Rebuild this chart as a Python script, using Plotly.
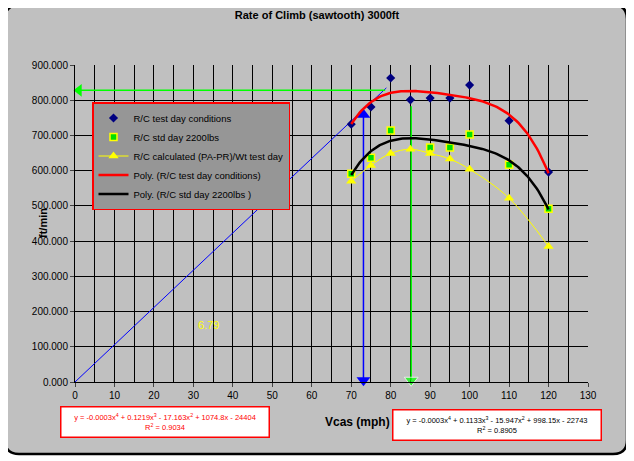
import numpy as np
import plotly.graph_objects as go

vcas = [70, 75, 80, 85, 90, 95, 100, 110, 120]
rc_test = [732, 781, 863, 801, 806, 806, 843, 742, 596]
vcas_std = [70, 75, 80, 90, 95, 100, 110, 120]
rc_std = [591, 637, 714, 666, 666, 703, 617, 492]
rc_calc = [570, 615, 649, 661, 649, 633, 604, 522, 385]

# hand-drawn helper lines on the chart
diag_x, diag_y = [0, 78.9], [0, 835]
horiz_x, horiz_y = [1, 78.6], [828, 828]
blue_x, blue_y = [73.1, 73.1], [5, 759]
green_x, green_y = [85.2, 85.2], [5, 783]

eq_left = "y = -0.0003x<sup>4</sup> + 0.1219x<sup>3</sup> - 17.163x<sup>2</sup> + 1074.8x - 24404<br>R<sup>2</sup> = 0.9034"
eq_right = "y = -0.0003x<sup>4</sup> + 0.1133x<sup>3</sup> - 15.947x<sup>2</sup> + 998.15x - 22743<br>R<sup>2</sup> = 0.8905"

def trend(x, y):
    x = np.array(x, float)
    c = np.polyfit(x - 95, y, 4)
    xs = np.linspace(70, 120, 120)
    return xs, np.polyval(c, xs - 95)

font = "Liberation Sans, Arial, sans-serif"
fig = go.Figure()

fig.add_scatter(x=diag_x, y=diag_y, mode="lines", line=dict(color="#0000ff", width=1), showlegend=False)
fig.add_scatter(x=horiz_x, y=horiz_y, mode="lines", line=dict(color="#00ff00", width=1.5), showlegend=False)
fig.add_scatter(x=horiz_x[:1], y=horiz_y[:1], mode="markers", cliponaxis=False,
                marker=dict(symbol="triangle-left", size=11, color="#00ff00"), showlegend=False)
fig.add_scatter(x=blue_x, y=blue_y, mode="lines+markers", cliponaxis=False,
                line=dict(color="#0000ff", width=1.5),
                marker=dict(symbol=["triangle-down", "triangle-up"], size=12, color="#0000ff"), showlegend=False)
fig.add_scatter(x=green_x, y=green_y, mode="lines+markers", cliponaxis=False,
                line=dict(color="#00ff00", width=1.5),
                marker=dict(symbol=["triangle-down", "triangle-up"], size=[12, 0], color="#00ff00"), showlegend=False)

fig.add_scatter(x=vcas, y=rc_test, mode="markers", name="R/C test day conditions",
                marker=dict(symbol="diamond", size=7, color="#000080"))
fig.add_scatter(x=vcas_std, y=rc_std, mode="markers", name="R/C std day 2200lbs",
                marker=dict(symbol="square", size=7, color="#00e000", line=dict(color="#ffff00", width=1.5)))
fig.add_scatter(x=vcas, y=rc_calc, mode="lines+markers", name="R/C calculated (PA-PR)/Wt test day",
                line=dict(color="#ffff00", width=1, shape="spline"),
                marker=dict(symbol="triangle-up", size=9, color="#ffff00"))
xs, ys = trend(vcas, rc_test)
fig.add_scatter(x=xs, y=ys, mode="lines", name="Poly. (R/C test day conditions)",
                line=dict(color="#ff0000", width=2.5))
xs, ys = trend(vcas_std, rc_std)
fig.add_scatter(x=xs, y=ys, mode="lines", name="Poly. (R/C std day 2200lbs )",
                line=dict(color="#000000", width=2.5))

# page offset: the browser body adds 8px around the figure
OFF = 8
L, T, R, B = 75, 65, 588, 382   # plot area on the page
W, H = R - L, B - T
def px(x): return (x - L) / W
def py(y): return (B - y) / H
x0, x1, y0, y1, r = 5, 627, 5, 454, 14
path = (f"M {px(x0+r)} {py(y0)} L {px(x1-r)} {py(y0)} Q {px(x1)} {py(y0)} {px(x1)} {py(y0+r)} "
        f"L {px(x1)} {py(y1-r)} Q {px(x1)} {py(y1)} {px(x1-r)} {py(y1)} "
        f"L {px(x0+r)} {py(y1)} Q {px(x0)} {py(y1)} {px(x0)} {py(y1-r)} "
        f"L {px(x0)} {py(y0+r)} Q {px(x0)} {py(y0)} {px(x0+r)} {py(y0)} Z")
fig.add_shape(type="path", path=path, xref="paper", yref="paper", layer="below",
              fillcolor="#c0c0c0", line=dict(color="black", width=2.5))

def note(x, y, text, **kw):
    fig.add_annotation(x=px(x), y=py(y), xref="paper", yref="paper", text=text, showarrow=False,
                       xanchor="center", yanchor="middle", **kw)

fig.add_annotation(x=33.9, y=161, text="6.79", showarrow=False, font=dict(color="#ffff00", size=11))
note(165, 422, eq_left, font=dict(color="#ff0000", size=7.5), bgcolor="white", bordercolor="#ff0000",
     borderwidth=1.5, width=205, height=27)
note(497, 425, eq_right, font=dict(color="black", size=7.5), bgcolor="white", bordercolor="#ff0000",
     borderwidth=1.5, width=205, height=27)
note(357, 422, "<b>Vcas (mph)</b>", font=dict(size=12, color="black"))
note(43, 223, "<b>ft/min</b>", textangle=-90, font=dict(size=11, color="black"))

fig.update_layout(
    width=634 - OFF, height=461 - OFF,
    margin=dict(l=L - OFF, r=634 - R, t=T - OFF, b=461 - B, autoexpand=False),
    paper_bgcolor="white", plot_bgcolor="#969696",
    font=dict(family=font, size=10, color="black"),
    title=dict(text="<b>Rate of Climb (sawtooth) 3000ft</b>", x=px(317), xref="paper",
               xanchor="center", y=1 - (15 - OFF) / (461 - OFF), yanchor="middle",
               font=dict(size=11)),
    legend=dict(x=px(92), y=py(102), xanchor="left", yanchor="top", bgcolor="#969696",
                bordercolor="#ff0000", borderwidth=1.5, font=dict(size=9.5), tracegroupgap=0,
                itemwidth=30),
)
fig.update_xaxes(range=[0, 130], dtick=10, showgrid=True, gridcolor="black", gridwidth=1,
                 minor=dict(dtick=5, showgrid=True, gridcolor="black", gridwidth=1),
                 showline=True, linecolor="black", ticks="outside", ticklen=4, zeroline=False)
fig.update_yaxes(range=[0, 900], dtick=100, tickformat=".3f", showgrid=True, gridcolor="black",
                 gridwidth=1, showline=True, linecolor="black", ticks="outside", ticklen=4,
                 zeroline=False)

fig.write_html("out.html")
